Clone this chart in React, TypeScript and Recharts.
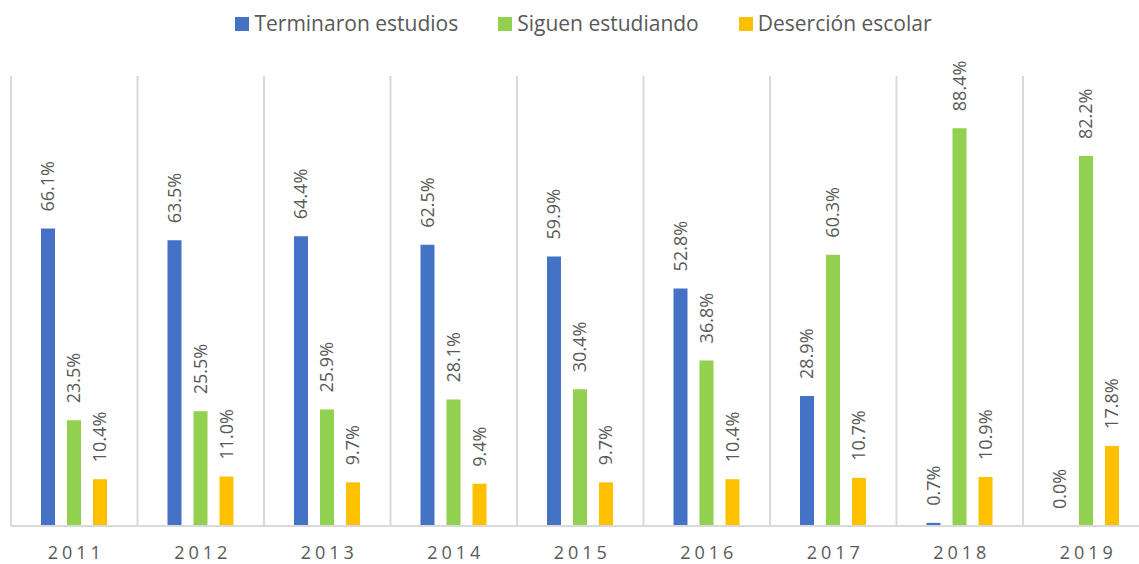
import React from "react";
import {
  BarChart,
  Bar,
  XAxis,
  YAxis,
  CartesianGrid,
  Legend,
  LabelList,
} from "recharts";

const years = ["2011", "2012", "2013", "2014", "2015", "2016", "2017", "2018", "2019"];
const terminaron = [66.1, 63.5, 64.4, 62.5, 59.9, 52.8, 28.9, 0.7, 0.0];
const siguen = [23.5, 25.5, 25.9, 28.1, 30.4, 36.8, 60.3, 88.4, 82.2];
const desercion = [10.4, 11.0, 9.7, 9.4, 9.7, 10.4, 10.7, 10.9, 17.8];

const series = [
  { key: "terminaron", name: "Terminaron estudios", color: "#4472C4" },
  { key: "siguen", name: "Siguen estudiando", color: "#92D050" },
  { key: "desercion", name: "Deserción escolar", color: "#FFC000" },
];

const data = years.map((year, i) => ({
  year,
  terminaron: terminaron[i],
  siguen: siguen[i],
  desercion: desercion[i],
}));

const TEXT = "#595959";
const GRID = "#d9d9d9";

function VerticalLabel(props: any) {
  const { x, y, width, value } = props;
  const cx = x + width / 2;
  const cy = y - 17;
  return (
    <text
      x={cx}
      y={cy}
      dy="0.36em"
      transform={`rotate(-90, ${cx}, ${cy})`}
      textAnchor="start"
      fill={TEXT}
      fontSize={18}
    >
      {`${Number(value).toFixed(1)}%`}
    </text>
  );
}

function YearTick(props: any) {
  const { x, y, payload } = props;
  return (
    <text x={x + 2} y={y + 25} textAnchor="middle" fill={TEXT} fontSize={18} letterSpacing={4}>
      {payload.value}
    </text>
  );
}

// legend in the same order as the series, not sorted by name
function LegendContent() {
  return (
    <div
      style={{
        height: 40,
        display: "flex",
        justifyContent: "center",
        alignItems: "flex-start",
        gap: 40,
        paddingTop: 9,
        boxSizing: "border-box",
      }}
    >
      {series.map((s) => (
        <div key={s.key} style={{ display: "flex", alignItems: "center", gap: 5, height: 28 }}>
          <span style={{ width: 14, height: 14, background: s.color, display: "inline-block", marginTop: 2 }} />
          <span style={{ color: TEXT, fontSize: 21, lineHeight: "28px" }}>{s.name}</span>
        </div>
      ))}
    </div>
  );
}

export default function App() {
  return (
    <div
      style={{
        position: "absolute",
        left: 0,
        top: 0,
        width: 1139,
        height: 564,
        overflow: "hidden",
        background: "#fff",
        fontFamily: "'Open Sans', sans-serif",
      }}
    >
      <BarChart
        width={1160}
        height={564}
        data={data}
        margin={{ top: 36, right: 10.5, bottom: 0, left: 11 }}
        barSize={14}
        barGap={12}
      >
        <CartesianGrid
          horizontal={false}
          stroke={GRID}
          strokeWidth={2}
          verticalCoordinatesGenerator={({ offset }: any) =>
            years.map((_, i) => offset.left + (i * offset.width) / years.length)
          }
        />
        <XAxis
          dataKey="year"
          height={38}
          axisLine={{ stroke: GRID, strokeWidth: 2 }}
          tickLine={false}
          tick={<YearTick />}
          interval={0}
        />
        <YAxis hide domain={[0, 100]} />
        <Legend
          verticalAlign="top"
          content={<LegendContent />}
          wrapperStyle={{ top: 0, left: 0, width: 1167 }}
        />
        {series.map((s) => (
          <Bar
            key={s.key}
            dataKey={s.key}
            name={s.name}
            fill={s.color}
            minPointSize={0.01}
            isAnimationActive={false}
          >
            <LabelList dataKey={s.key} content={<VerticalLabel />} />
          </Bar>
        ))}
      </BarChart>
    </div>
  );
}
